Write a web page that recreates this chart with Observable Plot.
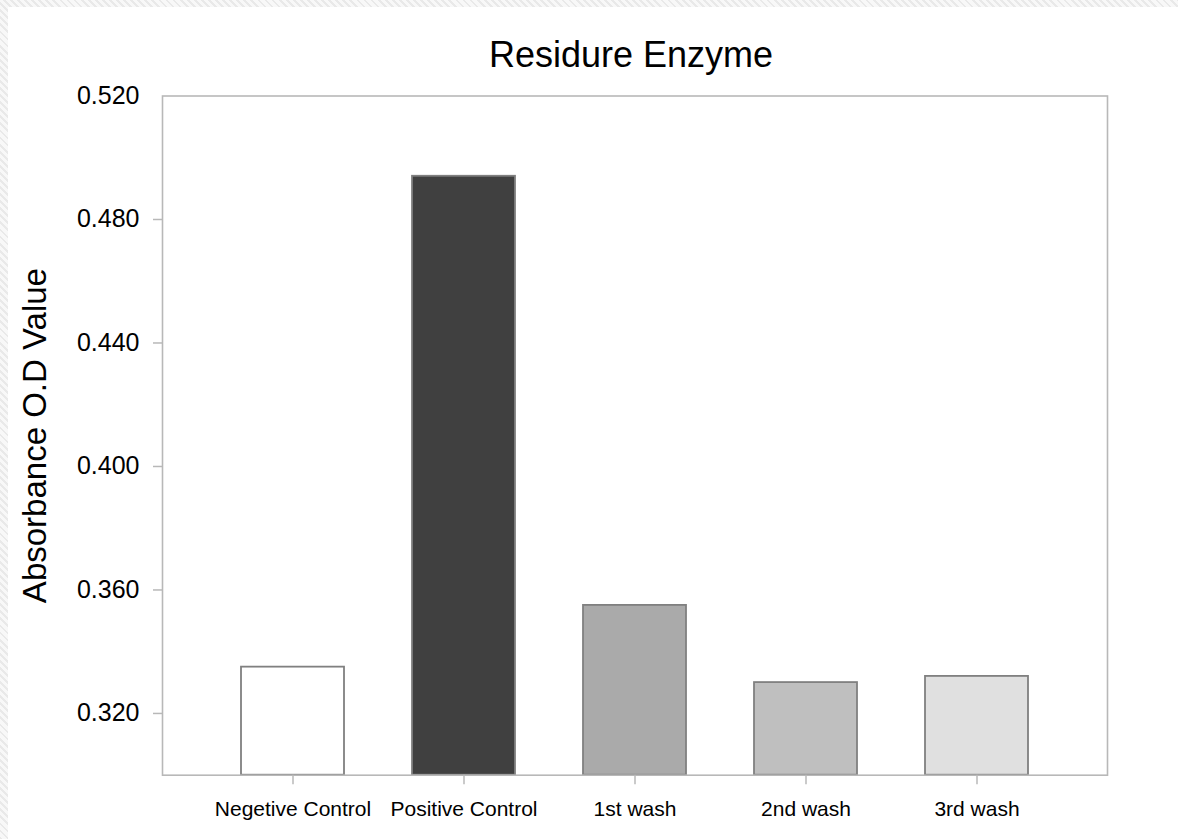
<!DOCTYPE html>
<html>
<head>
<meta charset="utf-8">
<script src="https://cdn.jsdelivr.net/npm/d3@7"></script>
<script src="https://cdn.jsdelivr.net/npm/@observablehq/plot@0.6"></script>
<style>
html, body { margin: 0; padding: 0; }
body {
  width: 1178px; height: 839px; overflow: hidden; position: relative;
  background: repeating-linear-gradient(45deg, #e9e9e9 0px, #e9e9e9 2px, #f8f8f8 2px, #f8f8f8 5px);
  font-family: "Liberation Sans", Arial, sans-serif;
}
#panel { position: absolute; left: 8px; top: 7px; width: 1170px; height: 832px; background: #fff; }
#title { position: relative; height: 73px; }
#title span {
  position: absolute; left: 623px; top: 30px; transform: translateX(-50%);
  font-size: 36px; line-height: 36px; white-space: nowrap; color: #000;
}
#chart svg { display: block; }
</style>
</head>
<body>
<div id="panel">
  <div id="title"><span id="titleText"></span></div>
  <div id="chart"></div>
</div>
<script>
// ---- data ----
const chartTitle = "Residure Enzyme";
const yLabel = "Absorbance O.D Value";
const categories = ["Negetive Control", "Positive Control", "1st wash", "2nd wash", "3rd wash"];
const values = [0.335, 0.494, 0.355, 0.330, 0.332];
const yTicks = [0.320, 0.360, 0.400, 0.440, 0.480, 0.520];
const yDomain = [0.300, 0.520];

// ---- build ----
document.getElementById("titleText").textContent = chartTitle;
const data = categories.map((c, i) => ({category: c, value: values[i]}));
const font = "'Liberation Sans', Arial, sans-serif";

const chart = Plot.plot({
  width: 1170,
  height: 759,
  marginLeft: 154,
  marginRight: 71,
  marginTop: 15.5,
  marginBottom: 64.3,
  style: {fontFamily: font, background: "transparent", color: "#000", overflow: "visible"},
  x: {domain: categories, paddingInner: 0.4, paddingOuter: 0.45, label: null},
  y: {domain: yDomain, label: null},
  color: {domain: categories, range: ["#ffffff", "#404040", "#aaaaaa", "#bfbfbf", "#e0e0e0"]},
  marks: [
    Plot.barY(data, {x: "category", y1: () => yDomain[0], y2: "value", fill: "category", stroke: "#808080", strokeWidth: 1.8}),
    Plot.frame({stroke: "#b8b8b8", strokeWidth: 1.6}),
    Plot.axisY(yTicks.filter(t => t < yDomain[1]), {tickSize: 9, text: null, stroke: "#b8b8b8", strokeWidth: 1.5, label: null}),
    Plot.axisY(yTicks, {tickSize: 0, tickPadding: 23, tickFormat: d3.format(".3f"), fontSize: 25, fill: "#000", label: null}),
    Plot.axisX({tickSize: 9.5, tickPadding: 16, fontSize: 21, stroke: "#b8b8b8", strokeWidth: 1.5, fill: "#000", label: null}),
    Plot.text([yLabel], {frameAnchor: "left", textAnchor: "middle", dx: -127, rotate: -90, fontSize: 33, fill: "#000"})
  ]
});
document.getElementById("chart").appendChild(chart);
</script>
</body>
</html>
